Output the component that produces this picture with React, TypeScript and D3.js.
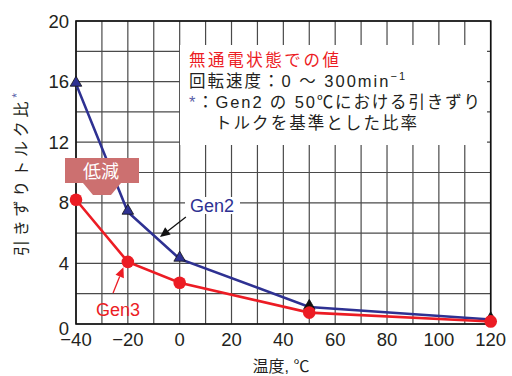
import React from "react";
import * as d3 from "d3";

const temps = [-40, -20, 0, 50, 120];
const gen2 = [15.85, 7.4, 4.3, 1.12, 0.3];
const gen3 = [8.2, 4.1, 2.72, 0.75, 0.17];
const xTicks = [-40, -20, 0, 20, 40, 60, 80, 100, 120];
const yTicks = [0, 4, 8, 12, 16, 20];
const xGrid = d3.range(-40, 121, 10);
const yGrid = d3.range(0, 21, 2);

const BLUE = "#2e3192";
const RED = "#ec1c24";
const FONT = "'Liberation Sans', Arial, 'Noto Sans CJK JP', sans-serif";

export default function App() {
  const x = d3.scaleLinear().domain([-40, 120]).range([76, 490.7]);
  const y = d3.scaleLinear().domain([0, 20]).range([324, 21]);
  const line = d3
    .line<number>()
    .x((_, i) => x(temps[i]))
    .y((d) => y(d));
  const tri = d3.symbol().type(d3.symbolTriangle).size(58);
  const mkArrow = (x1: number, y1: number, x2: number, y2: number, color: string) => {
    const ang = Math.atan2(y2 - y1, x2 - x1);
    const L = 10, W = 4.5;
    const bx = x2 - L * Math.cos(ang), by = y2 - L * Math.sin(ang);
    const px = -Math.sin(ang) * W, py = Math.cos(ang) * W;
    return (
      <g>
        <line x1={x1} y1={y1} x2={bx} y2={by} stroke={color} strokeWidth={1.3} />
        <polygon points={`${x2},${y2} ${bx + px},${by + py} ${bx - px},${by - py}`} fill={color} />
      </g>
    );
  };
  return (
    <svg width={512} height={376} style={{ position: "absolute", left: 0, top: 0 }}>
      <rect width={512} height={376} fill="#fff" />
      {xGrid.map((v) => (
        <line key={"gx" + v} x1={x(v)} x2={x(v)} y1={y(0)} y2={y(20)} stroke="#4a4a4a" strokeWidth={1.2} />
      ))}
      {yGrid.map((v) => (
        <line key={"gy" + v} x1={x(-40)} x2={x(120)} y1={y(v)} y2={y(v)} stroke="#4a4a4a" strokeWidth={1.2} />
      ))}
      <rect x={x(-40)} y={y(20)} width={x(120) - x(-40)} height={y(0) - y(20)} fill="none" stroke="#111" strokeWidth={1.6} />
      {/* info box */}
      <rect x={180} y={45} width={307} height={100} fill="#fff" />
      <g fontFamily={FONT} fontSize={16.5}>
        <text x={189} y={66} fill={RED} textLength={150} lengthAdjust="spacing">無通電状態での値</text>
        <text x={189} y={87} fill="#231f20" textLength={216} lengthAdjust="spacing">
          回転速度：0 ～ 300min<tspan dy={-7} fontSize={11}>−1</tspan>
        </text>
        <text x={189} y={108} fill="#231f20" textLength={291} lengthAdjust="spacing">
          <tspan fill="#5b5fa8">*</tspan>：Gen2 の 50℃における引きずり
        </text>
        <text x={215} y={129} fill="#231f20" textLength={202} lengthAdjust="spacing">トルクを基準とした比率</text>
      </g>
      {/* Gen2 label */}
      <rect x={185} y={197} width={55} height={17} fill="#fff" />
      <text x={212} y={212} textAnchor="middle" fontFamily={FONT} fontSize={18} fill={BLUE}>Gen2</text>
      {/* lines */}
      <path d={line(gen2) || ""} fill="none" stroke={BLUE} strokeWidth={2.6} />
      {gen2.map((v, i) => (
        <path key={"t" + i} d={tri() || ""} transform={`translate(${x(temps[i])},${y(v) - 1})`} fill={i >= 3 ? "#111" : BLUE} stroke="#111" strokeWidth={0.8} />
      ))}
      <path d={line(gen3) || ""} fill="none" stroke={RED} strokeWidth={2.6} />
      {gen3.map((v, i) => (
        <circle key={"c" + i} cx={x(temps[i])} cy={y(v)} r={6.3} fill={RED} />
      ))}
      {/* annotations */}
      {mkArrow(x(2.4), y(7.06), x(-7.6), y(5.74), "#111")}
      {mkArrow(x(-25.7), y(2.05), x(-21.7), y(3.75), RED)}
      <text x={118} y={316} textAnchor="middle" fontFamily={FONT} fontSize={18} fill={RED}>Gen3</text>
      {/* 低減 */}
      <rect x={65} y={158} width={74} height={25} fill="#cc7070" />
      <polygon points="83,183 121,183 111,195 93,195" fill="#cc7070" />
      <text x={101} y={178} textAnchor="middle" fontFamily={FONT} fontSize={18} fill="#fff">低減</text>
      {/* axes labels */}
      {yTicks.map((v) => (
        <text key={"yt" + v} x={69} y={y(v) + (v === 0 ? 10.5 : 6.5)} textAnchor="end" fontFamily={FONT} fontSize={18.5} fill="#231f20">{v}</text>
      ))}
      {xTicks.map((v) => (
        <text key={"xt" + v} x={x(v)} y={346} textAnchor="middle" fontFamily={FONT} fontSize={18.5} fill="#231f20">{v < 0 ? "−" + Math.abs(v) : v}</text>
      ))}
      <text x={281} y={372} textAnchor="middle" fontFamily={FONT} fontSize={16} fill="#231f20">温度, ℃</text>
      <text transform="translate(27,256) rotate(-90)" fontFamily={FONT} fontSize={16} fill="#231f20" textLength={163} lengthAdjust="spacing">
        引きずりトルク比<tspan fill="#5b5fa8" dy={-6} fontSize={12}>*</tspan>
      </text>
    </svg>
  );
}
